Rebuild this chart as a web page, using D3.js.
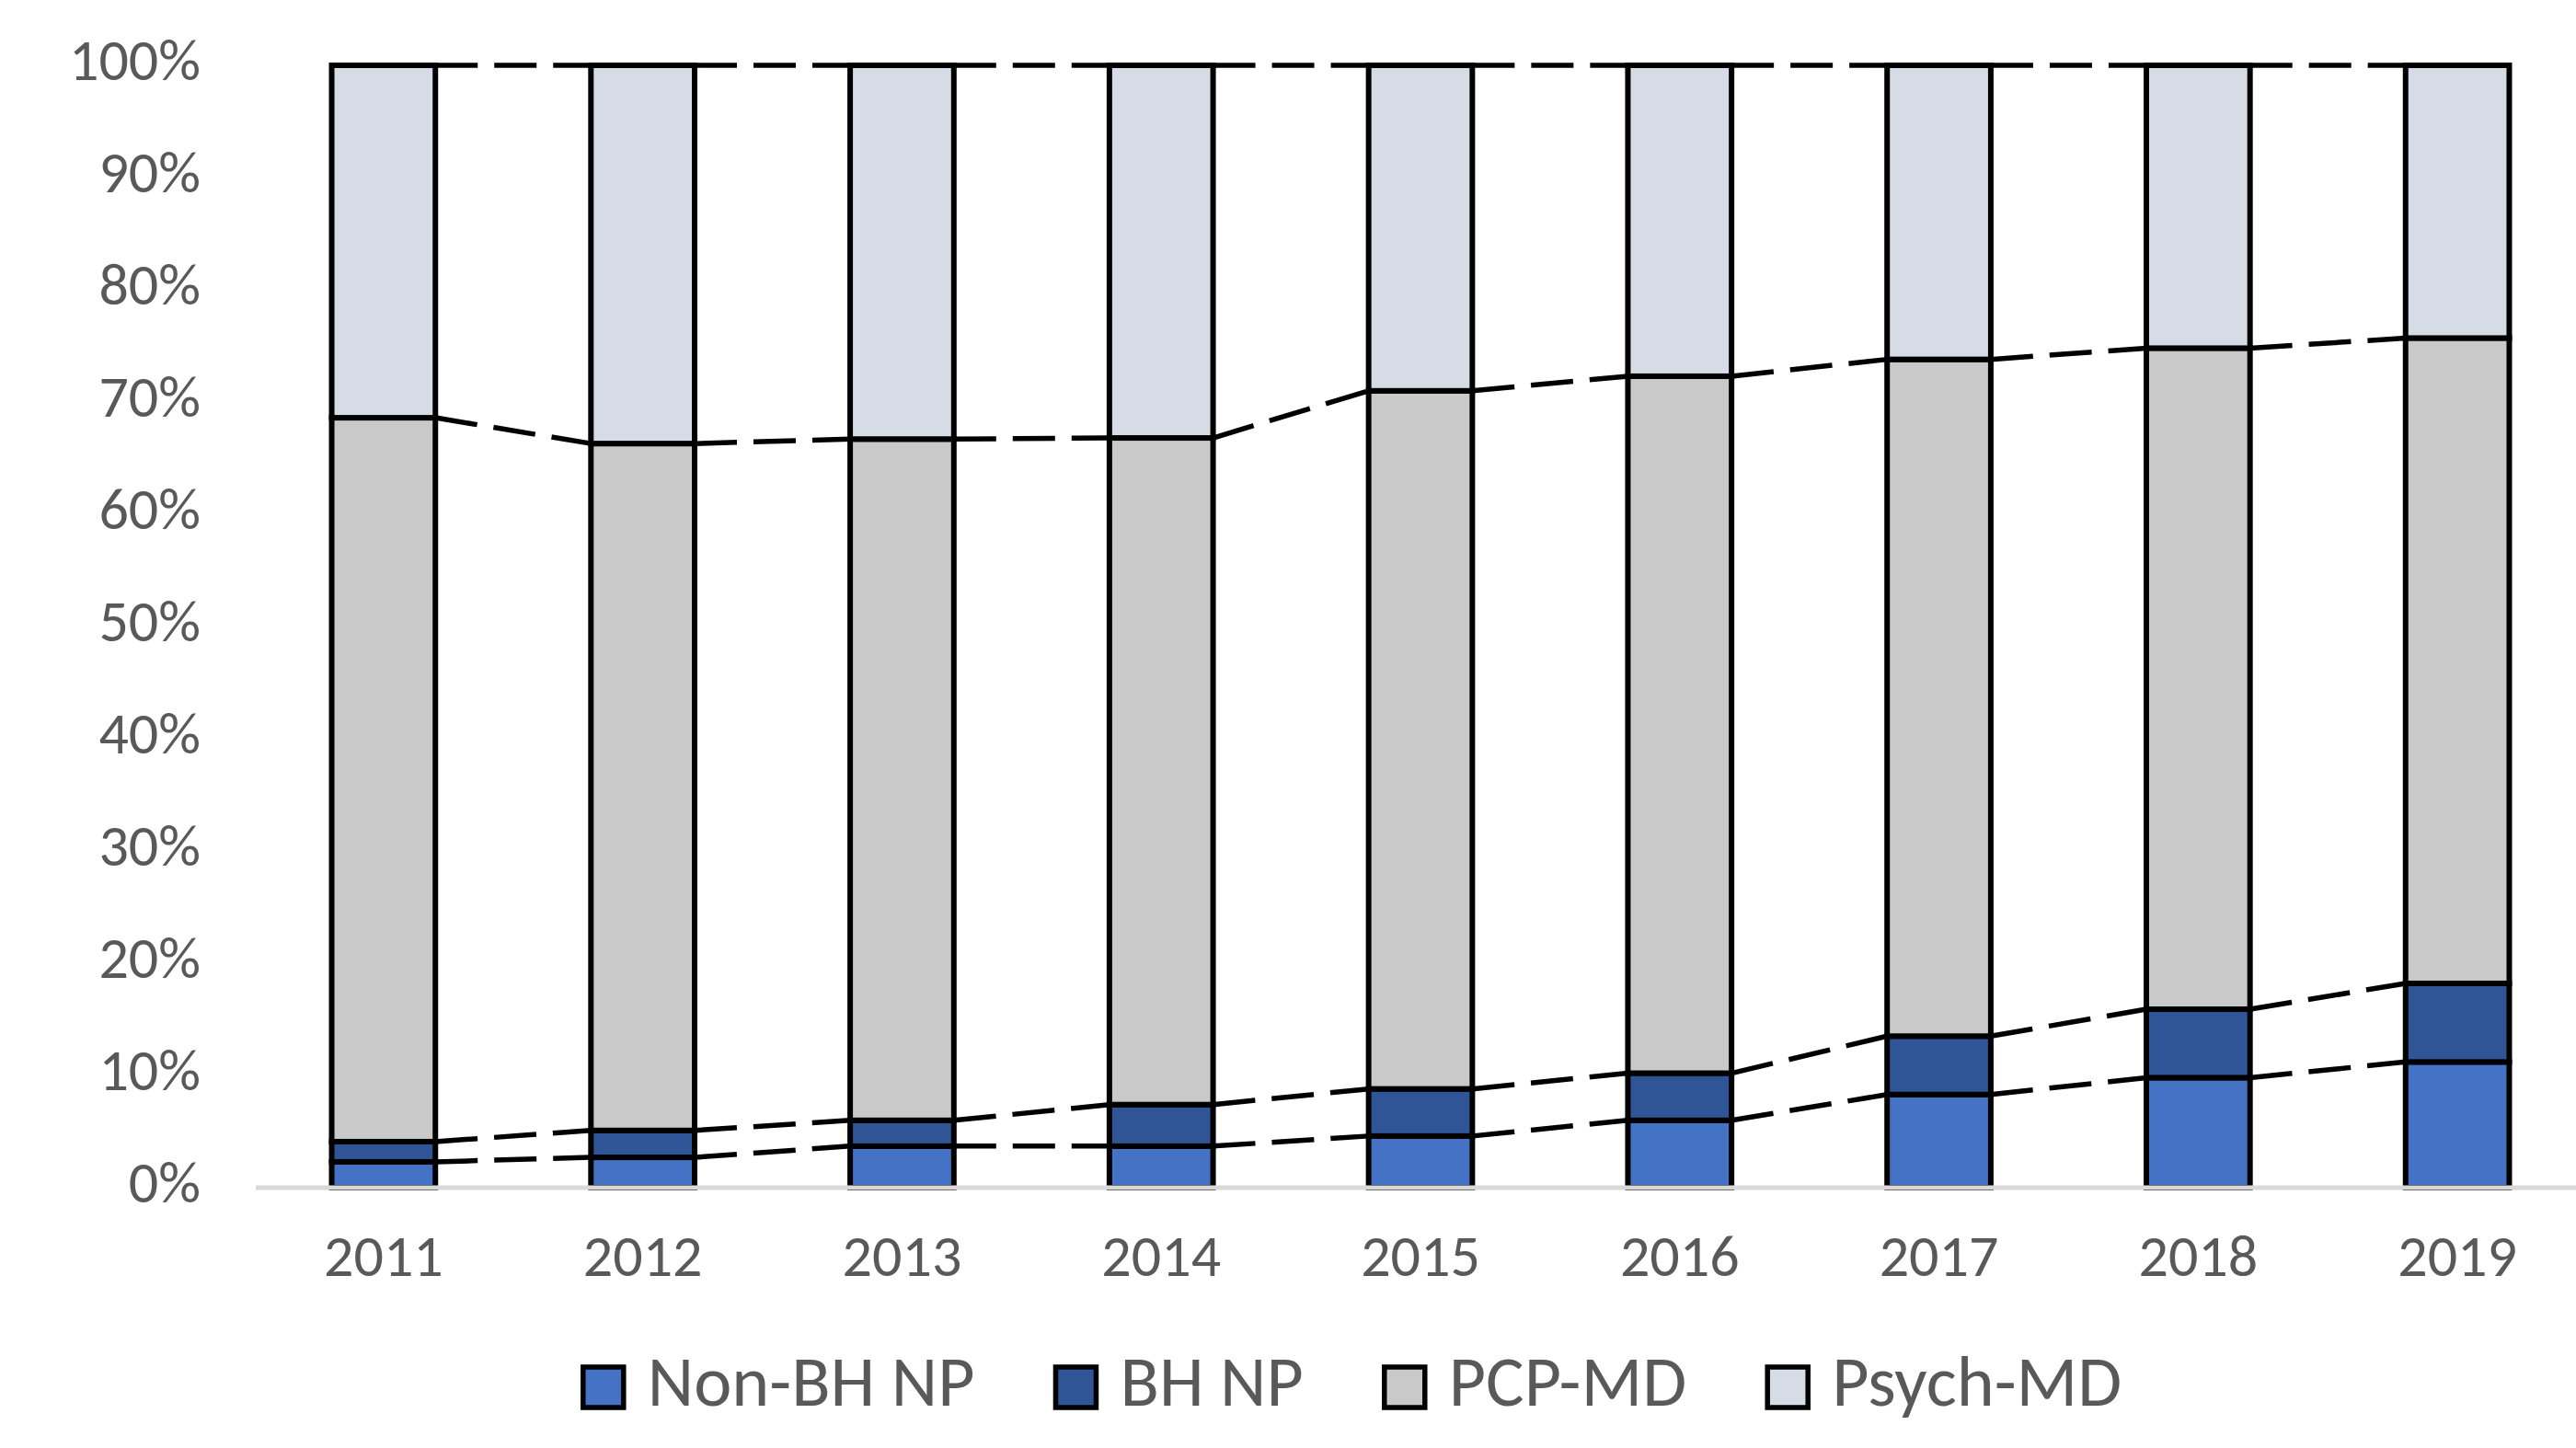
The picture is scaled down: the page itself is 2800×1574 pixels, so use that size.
<!DOCTYPE html>
<html>
<head>
<meta charset="utf-8">
<script src="https://cdn.jsdelivr.net/npm/d3@7"></script>
<style>
  html, body { margin: 0; background: #fff; }
  svg { display: block; overflow: hidden; }
  text { font-family: Carlito, Calibri, Lato, "Open Sans", sans-serif; fill: #595959; }
</style>
</head>
<body>
<svg id="chart" width="2800" height="1574"></svg>
<script>
// Data (shares in %)
const years = ['2011', '2012', '2013', '2014', '2015', '2016', '2017', '2018', '2019'];
const seriesNames = ['Non-BH NP', 'BH NP', 'PCP-MD', 'Psych-MD'];
const nonBhNp = [2.3, 2.7, 3.7, 3.7, 4.6, 6.0, 8.3, 9.8, 11.2];
const bhNp    = [1.8, 2.4, 2.3, 3.7, 4.2, 4.2, 5.2, 6.1, 7.0];
const pcpMd   = [64.5, 61.2, 60.7, 59.4, 62.2, 62.1, 60.3, 58.9, 57.5];
const psychMd = [31.4, 33.7, 33.3, 33.2, 29.0, 27.7, 26.2, 25.2, 24.3];
const yTicks = [0, 10, 20, 30, 40, 50, 60, 70, 80, 90, 100];

const seriesColors = ['#4472C4', '#2F5597', '#C9C9C9', '#D6DCE5'];

// rows for d3.stack
const rows = years.map((yr, i) => ({
  year: yr,
  'Non-BH NP': nonBhNp[i],
  'BH NP': bhNp[i],
  'PCP-MD': pcpMd[i],
  'Psych-MD': psychMd[i]
}));
const stacked = d3.stack().keys(seriesNames)(rows);

const svg = d3.select('#chart');

// Scales (plot runs slightly past the right edge, as in the reference crop)
const x = d3.scaleBand().domain(years).range([276, 2812]).paddingInner(0.6).paddingOuter(0.3);
const y = d3.scaleLinear().domain([0, 100]).range([1291, 71]);
const color = d3.scaleOrdinal().domain(seriesNames).range(seriesColors);

// Bars
svg.append('g')
  .selectAll('g')
  .data(stacked)
  .join('g')
    .attr('fill', d => color(d.key))
  .selectAll('rect')
  .data(d => d)
  .join('rect')
    .attr('x', d => x(d.data.year))
    .attr('y', d => y(d[1]))
    .attr('width', x.bandwidth())
    .attr('height', d => y(d[0]) - y(d[1]))
    .attr('stroke', '#000')
    .attr('stroke-width', 6);

// Dashed series lines between neighbouring bars
const seriesLines = [];
stacked.forEach(s => {
  for (let i = 0; i < s.length - 1; i++) {
    seriesLines.push({ a: s[i], b: s[i + 1] });
  }
});
svg.append('g')
  .selectAll('line')
  .data(seriesLines)
  .join('line')
    .attr('x1', d => x(d.a.data.year) + x.bandwidth())
    .attr('y1', d => y(d.a[1]))
    .attr('x2', d => x(d.b.data.year))
    .attr('y2', d => y(d.b[1]))
    .attr('stroke', '#000')
    .attr('stroke-width', 5.5)
    .attr('stroke-dasharray', '46,18');

// Baseline
svg.append('line')
  .attr('x1', 278).attr('x2', 2812)
  .attr('y1', y(0)).attr('y2', y(0))
  .attr('stroke', '#D9D9D9')
  .attr('stroke-width', 5);

// Y axis labels
const yAxis = svg.append('g')
  .attr('transform', 'translate(218,0)')
  .call(d3.axisLeft(y).tickValues(yTicks).tickFormat(d => d + '%').tickSize(0).tickPadding(0));
yAxis.select('.domain').remove();
yAxis.selectAll('text')
  .attr('dy', 15.5)
  .attr('font-size', 64)
  .attr('fill', '#595959')
  .style('font-family', null);

// X axis labels
const xAxis = svg.append('g')
  .attr('transform', `translate(0,${y(0)})`)
  .call(d3.axisBottom(x).tickSize(0).tickPadding(0));
xAxis.select('.domain').remove();
xAxis.selectAll('text')
  .attr('y', 96)
  .attr('dy', 0)
  .attr('font-size', 64)
  .attr('fill', '#595959')
  .style('font-family', null);

// Legend
const legend = svg.append('g');
const items = legend.selectAll('g')
  .data(seriesNames)
  .join('g');
items.append('rect')
  .attr('width', 44).attr('height', 44)
  .attr('y', 1486)
  .attr('fill', d => color(d))
  .attr('stroke', '#000')
  .attr('stroke-width', 5.5);
items.append('text')
  .attr('x', 70)
  .attr('y', 1528)
  .attr('font-size', 78)
  .text(d => d);

let cursor = 0;
const offsets = [];
items.each(function () {
  offsets.push(cursor);
  const w = d3.select(this).select('text').node().getComputedTextLength();
  cursor += 70 + w + 88;
});
const total = cursor - 88;
const legendLeft = 1470 - total / 2;
items.attr('transform', (d, i) => `translate(${legendLeft + offsets[i]},0)`);
</script>
</body>
</html>
